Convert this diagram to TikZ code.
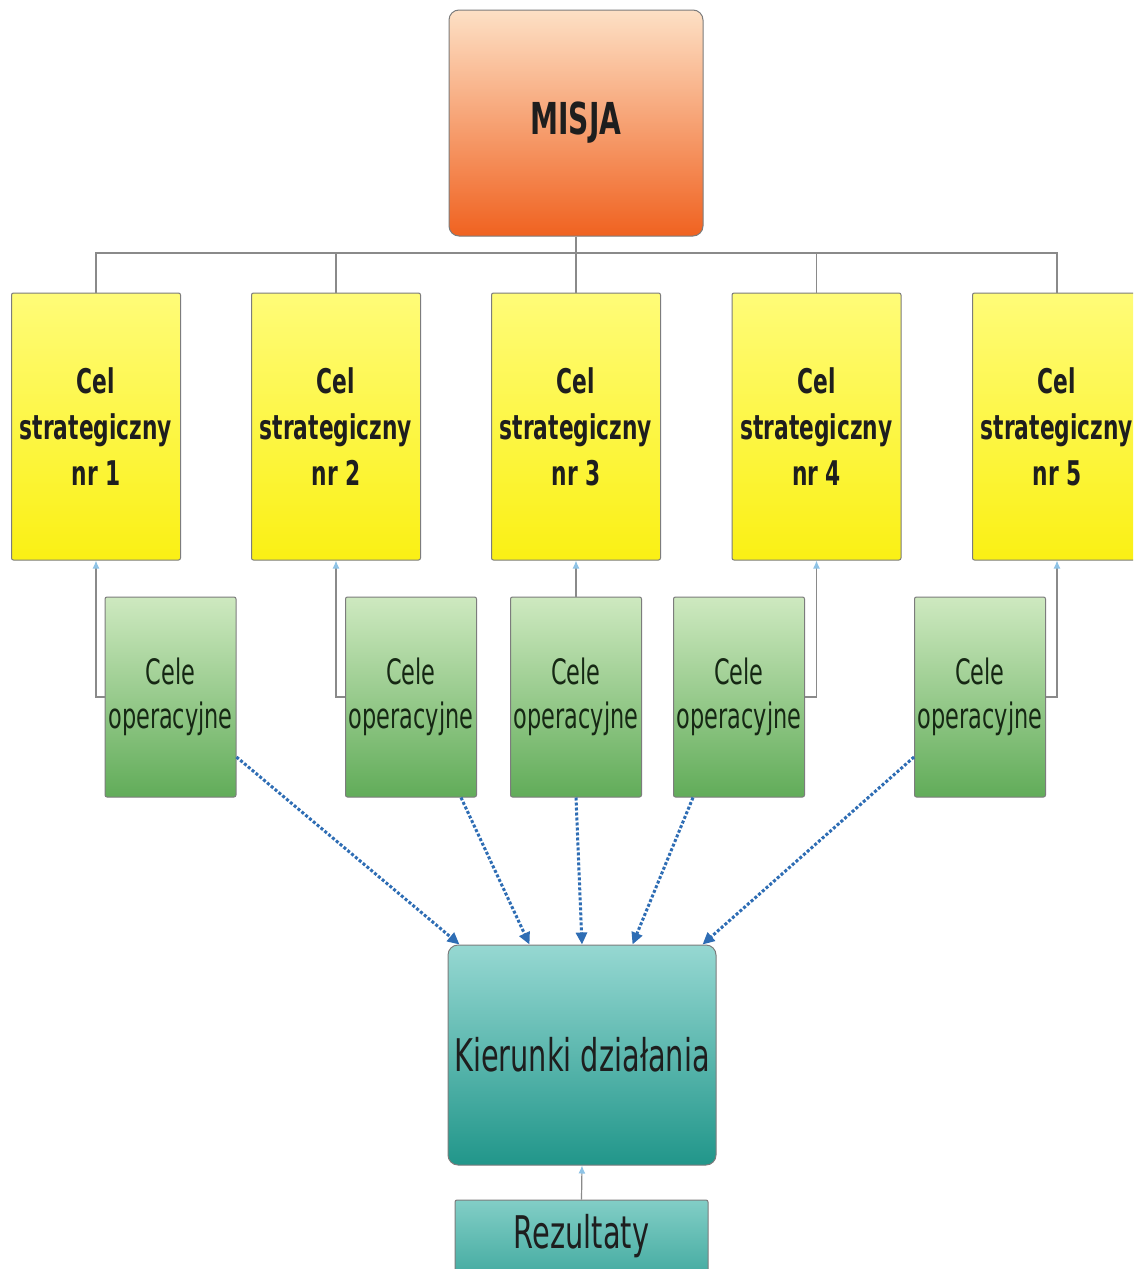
\documentclass[tikz,border=0pt]{standalone}
\usepackage{fontspec}
\setmainfont{DejaVu Sans}[FakeStretch=0.64]
\usetikzlibrary{arrows.meta,calc}
\definecolor{lineg}{HTML}{8A8A8A}
\definecolor{tipb}{HTML}{8EC3E6}
\definecolor{dotb}{HTML}{2E6DB4}
\definecolor{bordg}{HTML}{7C7C7C}
\definecolor{txt}{HTML}{1E1E1E}
\begin{document}
\begin{tikzpicture}[x=1pt,y=-1pt,
  box/.style={draw=bordg,line width=1pt,inner sep=0pt,align=center,text=txt},
  misja/.style={box,rounded corners=10pt,minimum width=254pt,minimum height=226pt,
     top color={rgb,255:red,253;green,224;blue,197},middle color={rgb,255:red,244;green,140;blue,78},bottom color={rgb,255:red,240;green,98;blue,32},
     font=\fontsize{44}{50}\selectfont\bfseries},
  cel/.style={box,rounded corners=2pt,minimum width=169pt,minimum height=267pt,
     top color={rgb,255:red,255;green,252;blue,120},bottom color={rgb,255:red,250;green,240;blue,20},
     font=\fontsize{34}{46}\selectfont\bfseries},
  oper/.style={box,rounded corners=2pt,minimum width=131pt,minimum height=200pt,
     top color={rgb,255:red,206;green,233;blue,192},bottom color={rgb,255:red,97;green,172;blue,89},
     font=\fontsize{35}{44}\selectfont,text={rgb,255:red,22;green,40;blue,20}},
  kier/.style={box,rounded corners=10pt,minimum width=268pt,minimum height=220pt,
     top color={rgb,255:red,150;green,216;blue,210},bottom color={rgb,255:red,33;green,150;blue,138},
     font=\fontsize{45}{50}\selectfont},
  rez/.style={box,rounded corners=2pt,minimum width=253pt,minimum height=110pt,
     top color={rgb,255:red,130;green,206;blue,198},bottom color={rgb,255:red,40;green,155;blue,144},
     font=\fontsize{45}{50}\selectfont},
  conn/.style={draw=lineg,line width=1.2pt},
  up/.style={conn,-{Latex[length=8pt,width=7pt,color=tipb,fill=tipb]}},
  dotarrow/.style={draw=dotb,line width=3pt,dotted,-{Triangle[length=12pt,width=11pt,fill=dotb]}}
]
\useasboundingbox[fill=white] (0,0) rectangle (1133,1269);
\begin{scope}
\clip (0,0) rectangle (1133,1269);
% Mission
\node[misja] (m) at (576,123) {MISJA};
% strategic goals
\node[cel] (y1) at (96,426.5) {Cel\\strategiczny\\nr 1};
\node[cel] (y2) at (336,426.5) {Cel\\strategiczny\\nr 2};
\node[cel] (y3) at (576,426.5) {Cel\\strategiczny\\nr 3};
\node[cel] (y4) at (816.5,426.5) {Cel\\strategiczny\\nr 4};
\node[cel] (y5) at (1057,426.5) {Cel\\strategiczny\\nr 5};
% operational goals
\node[oper] (g1) at (170.5,697) {Cele\\operacyjne};
\node[oper] (g2) at (411,697) {Cele\\operacyjne};
\node[oper] (g3) at (576,697) {Cele\\operacyjne};
\node[oper] (g4) at (739,697) {Cele\\operacyjne};
\node[oper] (g5) at (980,697) {Cele\\operacyjne};
% directions and results
\node[kier] (k) at (582,1055) {Kierunki działania};
\node[rez] (r) at (581.5,1255) {};
\node[font=\fontsize{45}{50}\selectfont,text=txt,inner sep=0pt] (rt) at (581.5,1236) {Rezultaty};
% bus
\coordinate (bus) at (576,253);
\draw[conn] (y1.north) |- (bus) -| (y5.north);
\draw[conn] (m.south) -- (y3.north);
\draw[conn] (y2.north) -- (y2.north |- bus);
\draw[conn] (y4.north) -- (y4.north |- bus);
% operational -> strategic
\draw[up] (g1.west) -| (y1.south);
\draw[up] (g2.west) -| (y2.south);
\draw[up] (g3.north) -- (y3.south);
\draw[up] (g4.east) -| (y4.south);
\draw[up] (g5.east) -| (y5.south);
% operational -> directions
\draw[dotarrow] ($(g1.east)+(0,60)$) -- ($(k.north west)+(12,0)$);
\draw[dotarrow] ($(g2.south)+(50,0)$) -- ($(k.north west)+(82,0)$);
\draw[dotarrow] (g3.south) -- (k.north);
\draw[dotarrow] ($(g4.south)+(-46,0)$) -- ($(k.north west)+(185,0)$);
\draw[dotarrow] ($(g5.west)+(0,60)$) -- ($(k.north west)+(255,0)$);
% results -> directions
\draw[up] (r.north) -- (k.south);
\end{scope}
\end{tikzpicture}
\end{document}
